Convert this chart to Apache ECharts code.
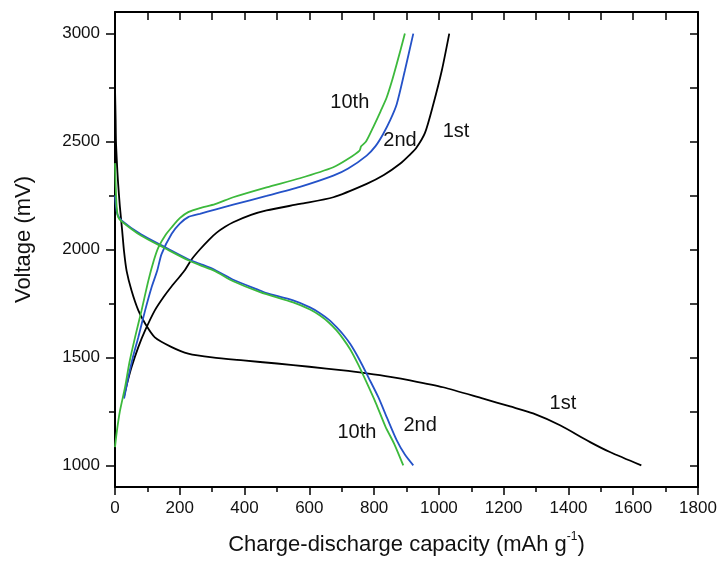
<!DOCTYPE html>
<html>
<head>
<meta charset="utf-8">
<script src="https://cdn.jsdelivr.net/npm/echarts@6/dist/echarts.min.js"></script>
<style>
  html, body { margin: 0; padding: 0; background: #ffffff; }
  #chart { width: 719px; height: 561px; }
</style>
</head>
<body>
<div id="chart"></div>
<script>
// Galvanostatic charge/discharge profiles: [capacity (mAh g-1), voltage (mV)]
const discharge1st = [[0,2750],[2,2600],[3,2500],[6,2400],[9,2320],[15,2200],[22,2090],[28,1990],[36,1900],[51,1810],[72,1718],[93,1657],[123,1593],[175,1548],[226,1518],[300,1500],[396,1486],[500,1472],[600,1457],[705,1440],[777,1426],[850,1410],[911,1394],[1013,1362],[1137,1309],[1220,1273],[1291,1241],[1374,1186],[1467,1108],[1528,1062],[1625,1000]];
const charge1st = [[28,1320],[40,1395],[51,1455],[72,1548],[93,1625],[123,1718],[150,1780],[175,1830],[200,1875],[216,1905],[237,1955],[262,2000],[290,2045],[314,2078],[340,2105],[365,2126],[420,2160],[468,2181],[571,2211],[674,2242],[777,2304],[830,2345],[880,2397],[911,2440],[930,2470],[957,2540],[983,2674],[1009,2829],[1032,3000]];
const discharge2nd = [[0,2250],[3,2200],[8,2160],[21,2134],[80,2070],[154,2011],[226,1955],[262,1934],[309,1905],[365,1860],[448,1810],[468,1798],[550,1764],[602,1732],[633,1705],[660,1675],[684,1640],[705,1605],[726,1563],[756,1486],[782,1409],[813,1316],[840,1220],[870,1116],[895,1050],[921,1000]];
const charge2nd = [[28,1310],[40,1400],[55,1500],[72,1594],[93,1718],[113,1825],[130,1900],[144,1980],[175,2073],[200,2120],[226,2150],[262,2165],[309,2185],[365,2208],[468,2248],[571,2290],[674,2342],[720,2375],[777,2435],[805,2480],[828,2535],[850,2600],[870,2674],[895,2829],[921,3000]];
const discharge10th = [[0,2400],[2,2300],[5,2200],[10,2150],[21,2130],[80,2065],[154,2006],[226,1950],[262,1928],[309,1900],[365,1853],[448,1803],[550,1755],[602,1722],[633,1694],[660,1662],[684,1625],[705,1585],[726,1538],[750,1470],[775,1390],[805,1290],[835,1180],[862,1100],[890,1000]];
const charge10th = [[0,1085],[5,1150],[15,1250],[31,1362],[45,1480],[62,1594],[82,1718],[103,1856],[120,1950],[134,2010],[155,2065],[175,2103],[200,2145],[226,2173],[262,2192],[309,2210],[365,2242],[468,2288],[571,2330],[674,2381],[720,2420],[755,2458],[760,2478],[775,2500],[797,2566],[820,2640],[839,2705],[855,2780],[870,2860],[895,3000]];

// Cycle annotations anchored in data space: [capacity, voltage, text]
const cycleLabels = [[725,2681,'10th'],[880,2505,'2nd'],[1053,2546,'1st'],[747,1153,'10th'],[942,1185,'2nd'],[1383,1287,'1st']];

const yMajorTicks = [1000,1500,2000,2500,3000];
const yMinorTicks = [1250,1750,2250,2750];
const yRightTicks = [1000,1250,1500,1750,2000,2250,2500,2750,3000];

const FONT = 'Liberation Sans, Arial, Helvetica, sans-serif';
const BLACK = '#000000', BLUE = '#2452c8', GREEN = '#3cb93c';
const TEXT = '#111111';

const chart = echarts.init(document.getElementById('chart'), null, { renderer: 'canvas' });

const axisLine = { show: true, onZero: false, lineStyle: { color: '#000', width: 2 } };
const plain = v => String(v);

function curve(name, data, color) {
  return {
    name, type: 'line', data, xAxisIndex: 0, yAxisIndex: 0,
    showSymbol: false, smooth: 0.25, silent: true,
    lineStyle: { color, width: 1.8 }, z: 3
  };
}

chart.setOption({
  backgroundColor: '#ffffff',
  animation: false,
  grid: { left: 115, right: 21, top: 12, bottom: 74, containLabel: false, outerBoundsMode: 'none' },
  xAxis: [
    {
      type: 'value', position: 'bottom', min: 0, max: 1800, interval: 200,
      axisLine,
      axisTick: { show: true, inside: false, length: 8, lineStyle: { color: '#000', width: 1.5 } },
      minorTick: { show: true, splitNumber: 2, length: 5, lineStyle: { color: '#000', width: 1.5 } },
      splitLine: { show: false },
      axisLabel: { fontSize: 17, fontFamily: FONT, color: TEXT, margin: 13, formatter: plain },
      name: 'Charge-discharge capacity (mAh g{sup|-1})',
      nameLocation: 'middle', nameGap: 44,
      nameTextStyle: {
        fontSize: 22, fontFamily: FONT, color: TEXT, lineHeight: 27,
        rich: { sup: { fontSize: 12, fontFamily: FONT, color: TEXT, verticalAlign: 'top', lineHeight: 12 } }
      }
    },
    {
      type: 'value', position: 'top', min: 0, max: 1800, interval: 100,
      axisLine,
      axisTick: { show: true, inside: true, length: 8, lineStyle: { color: '#000', width: 1.5 } },
      axisLabel: { show: false }, splitLine: { show: false }
    }
  ],
  yAxis: [
    {
      type: 'value', position: 'left', min: 900, max: 3100,
      axisLine,
      axisTick: { show: true, inside: false, length: 9, customValues: yMajorTicks, lineStyle: { color: '#000', width: 1.5 } },
      axisLabel: { fontSize: 17, fontFamily: FONT, color: TEXT, margin: 15, customValues: yMajorTicks, formatter: plain },
      splitLine: { show: false },
      name: 'Voltage (mV)', nameLocation: 'middle', nameGap: 80, nameRotate: 90,
      nameTextStyle: { fontSize: 22, fontFamily: FONT, color: TEXT, padding: [0, 0, 0, 20] }
    },
    {
      type: 'value', position: 'right', min: 900, max: 3100,
      axisLine,
      axisTick: { show: true, inside: true, length: 8, customValues: yRightTicks, lineStyle: { color: '#000', width: 1.5 } },
      axisLabel: { show: false }, splitLine: { show: false }
    },
    {
      type: 'value', position: 'left', min: 900, max: 3100,
      axisLine: { show: false },
      axisTick: { show: true, inside: false, length: 6, customValues: yMinorTicks, lineStyle: { color: '#000', width: 1.5 } },
      axisLabel: { show: false }, splitLine: { show: false }
    }
  ],
  series: [
    curve('1st discharge', discharge1st, BLACK),
    curve('1st charge', charge1st, BLACK),
    curve('2nd discharge', discharge2nd, BLUE),
    curve('2nd charge', charge2nd, BLUE),
    curve('10th discharge', discharge10th, GREEN),
    curve('10th charge', charge10th, GREEN)
  ]
});

// Cycle-number labels, positioned through the axis scales
chart.setOption({
  graphic: cycleLabels.map(([x, y, text]) => {
    const [px, py] = chart.convertToPixel({ xAxisIndex: 0, yAxisIndex: 0 }, [x, y]);
    return {
      type: 'text', x: px, y: py, silent: true, z: 10,
      style: { text, fontSize: 20, fontFamily: FONT, fill: TEXT, align: 'center', verticalAlign: 'middle' }
    };
  })
});
</script>
</body>
</html>
